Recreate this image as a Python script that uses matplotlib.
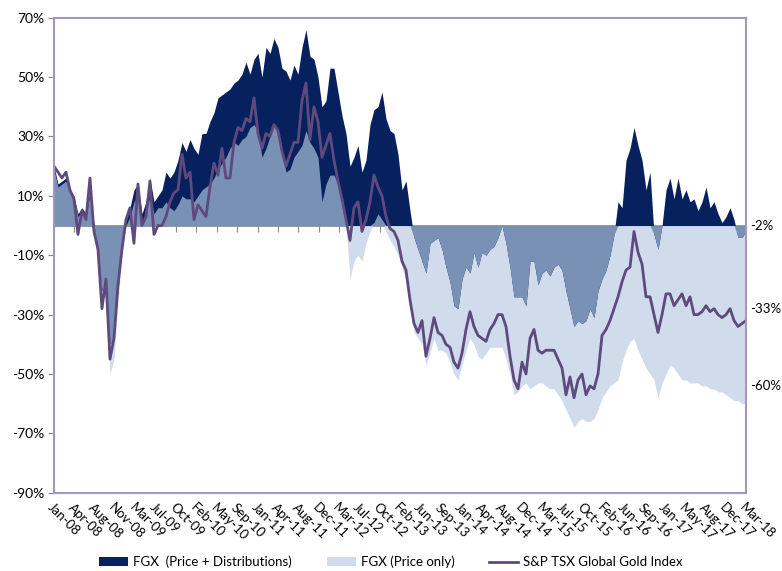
import matplotlib.pyplot as plt
import numpy as np
from matplotlib.lines import Line2D
from matplotlib.patches import Patch
from matplotlib.ticker import FuncFormatter

plt.rcParams['font.family'] = ['Lato', 'DejaVu Sans']

# category labels shown along the x axis (evenly spaced, Excel style)
tick_labels = [
    'Jan-08', 'Apr-08', 'Aug-08', 'Nov-08', 'Mar-09', 'Jul-09', 'Oct-09',
    'Feb-10', 'May-10', 'Sep-10', 'Jan-11', 'Apr-11', 'Aug-11', 'Dec-11',
    'Mar-12', 'Jul-12', 'Oct-12', 'Feb-13', 'Jun-13', 'Sep-13', 'Jan-14',
    'Apr-14', 'Aug-14', 'Dec-14', 'Mar-15', 'Jul-15', 'Oct-15', 'Feb-16',
    'Jun-16', 'Sep-16', 'Jan-17', 'May-17', 'Aug-17', 'Dec-17', 'Mar-18',
]

# cumulative return (%), Jan-08 .. Mar-18
gold_index = [
    20, 18, 16, 18, 12, 9, -3, 5, 2, 16,
    -2, -8, -28, -18, -45, -38, -20, -8, 2, 6,
    -6, 14, 0, 3, 15, -3, 0, 0, 3, 8,
    11, 12, 24, 16, 18, 2, 7, 5, 3, 13,
    21, 17, 26, 16, 16, 28, 33, 32, 36, 35,
    43, 31, 26, 31, 30, 34, 32, 25, 20, 24,
    28, 28, 42, 48, 29, 40, 35, 23, 27, 31,
    22, 15, 9, 2, -5, 6, 8, -2, 2, 8,
    17, 13, 10, 3, -1, -2, -5, -12, -15, -25,
    -33, -36, -32, -44, -38, -31, -36, -37, -40, -41,
    -46, -48, -43, -35, -29, -34, -37, -38, -39, -35,
    -33, -30, -30, -34, -44, -52, -55, -46, -50, -38,
    -35, -42, -43, -42, -42, -42, -45, -48, -57, -51,
    -58, -52, -50, -57, -54, -55, -50, -37, -35, -32,
    -28, -24, -19, -15, -14, -2, -9, -13, -24, -24,
    -30, -36, -30, -23, -23, -27, -25, -23, -27, -24,
    -30, -30, -29, -27, -29, -28, -30, -31, -30, -28,
    -32, -34, -33, -32,
]

fgx_price_dist = [
    20, 14, 15, 16, 12, 10, 4, 6, 4, 12,
    0, -8, -22, -20, -40, -38, -22, -8, 2, 6,
    12, 14, 4, 8, 16, 8, 10, 12, 18, 16,
    18, 22, 28, 25, 29, 26, 24, 31, 31, 35,
    38, 43, 44, 45, 46, 48, 49, 51, 55, 51,
    56, 58, 50, 60, 58, 63, 60, 53, 52, 49,
    54, 51, 60, 66, 57, 56, 50, 40, 42, 53,
    53, 45, 37, 31, 20, 23, 27, 18, 22, 34,
    39, 40, 45, 36, 32, 31, 24, 12, 15, 5,
    -4, -8, -12, -16, -6, -5, -4, -8, -14, -19,
    -27, -28, -18, -14, -16, -9, -14, -9, -10, -8,
    -7, -4, 0, -6, -14, -24, -24, -24, -27, -12,
    -12, -20, -16, -15, -17, -14, -13, -15, -22, -28,
    -34, -32, -33, -32, -28, -31, -22, -18, -15, -10,
    -3, 8, 6, 22, 26, 33, 27, 22, 12, 18,
    -3, -8, 0, 12, 16, 9, 16, 9, 12, 8,
    9, 5, 8, 13, 6, 8, 4, 1, 3, 6,
    2, -4, -4, -2,
]

fgx_price_only = [
    19, 13, 14, 15, 11, 9, 3, 5, 3, 11,
    -1, -10, -25, -24, -50, -45, -26, -10, 0, 3,
    8, 10, 1, 4, 10, 4, 6, 6, 8, 6,
    5, 7, 10, 9, 9, 8, 10, 12, 13, 14,
    16, 19, 21, 23, 26, 28, 27, 29, 30, 33,
    34, 32, 23, 26, 30, 34, 32, 25, 18, 19,
    23, 25, 27, 32, 28, 26, 23, 8, 14, 17,
    17, 14, 8, 0, -18, -12, -10, -12, -6, -2,
    1, 4, 2, -2, -5, -7, -10, -14, -19, -28,
    -36, -38, -40, -47, -43, -38, -42, -42, -43, -46,
    -50, -52, -47, -42, -38, -40, -44, -45, -43, -41,
    -41, -41, -41, -45, -50, -57, -56, -54, -53, -55,
    -54, -53, -53, -54, -55, -55, -57, -59, -62, -65,
    -68, -66, -65, -66, -66, -65, -62, -58, -56, -54,
    -53, -52, -46, -42, -39, -38, -42, -45, -48, -50,
    -52, -58, -53, -50, -47, -48, -50, -52, -52, -53,
    -53, -53, -54, -54, -55, -55, -56, -56, -57, -58,
    -59, -59, -60, -60,
]

# labels printed at the right end of each series
end_labels = ['-2%', '-33%', '-60%']

NAVY = '#07215f'
LIGHT = '#d0dcec'
MID = '#7891b5'
PURPLE = '#5f4a7e'
FRAME = '#a497bb'
GREY = '#8a8a8a'

pdist = np.array(fgx_price_dist, dtype=float)
ponly = np.array(fgx_price_only, dtype=float)
gold = np.array(gold_index, dtype=float)
x = np.arange(len(pdist))

# where both FGX series sit on the same side of zero the two fills overlap
same_side = np.sign(pdist) == np.sign(ponly)
overlap = np.where(same_side, np.sign(pdist) * np.minimum(np.abs(pdist), np.abs(ponly)), 0)

fig = plt.figure(figsize=(7.82, 5.71), dpi=100)
ax = fig.add_axes([0.069, 0.137, 0.885, 0.832])

ax.fill_between(x, 0, ponly, color=LIGHT, lw=0)
ax.fill_between(x, 0, pdist, color=NAVY, lw=0)
ax.fill_between(x, 0, overlap, color=MID, lw=0)
ax.plot(x, gold, color=PURPLE, lw=2.0)

ax.set_xlim(0, len(x) - 1)
ax.set_ylim(-90, 70)
ax.set_yticks(np.arange(-90, 71, 20))
ax.yaxis.set_major_formatter(FuncFormatter(lambda v, _: f'{v:.0f}%'))
ax.tick_params(axis='y', length=4, color=GREY, labelsize=10, pad=3)

tick_pos = np.linspace(0, len(x) - 1, len(tick_labels))
ax.set_xticks(tick_pos)
ax.set_xticklabels(tick_labels, rotation=-45, ha='left', va='top',
                   rotation_mode='anchor', fontsize=9.5)
ax.tick_params(axis='x', length=0, pad=6)

for side in ['left', 'right', 'top', 'bottom']:
    ax.spines[side].set_color(FRAME)
    ax.spines[side].set_linewidth(1.5)

# horizontal category axis crossing at zero
zero_axis = ax.secondary_xaxis(90 / 160)
zero_axis.set_alignment('bottom')
zero_axis.set_xticks(tick_pos)
zero_axis.tick_params(length=4, color=GREY, labelbottom=False, labeltop=False)
zero_axis.spines['bottom'].set_color(GREY)
zero_axis.spines['bottom'].set_linewidth(1.2)

for text, series, dy in zip(end_labels, [pdist, gold, ponly], [4, 8, 13]):
    ax.annotate(text, xy=(x[-1], series[-1]), xytext=(3, dy),
                textcoords='offset points', va='center', ha='left',
                fontsize=9.5, annotation_clip=False)

handles = [
    Patch(facecolor=NAVY, edgecolor='none'),
    Patch(facecolor=LIGHT, edgecolor='none'),
    Line2D([0], [0], color=PURPLE, lw=2),
]
labels = ['FGX  (Price + Distributions)', 'FGX (Price only)', 'S&P TSX Global Gold Index']
fig.legend(handles, labels, loc='center', bbox_to_anchor=(0.5, 0.016), ncol=3,
           frameon=False, fontsize=9.5, handlelength=2.2, columnspacing=2.6,
           handletextpad=0.4)

fig.savefig('out.png', dpi=100)
